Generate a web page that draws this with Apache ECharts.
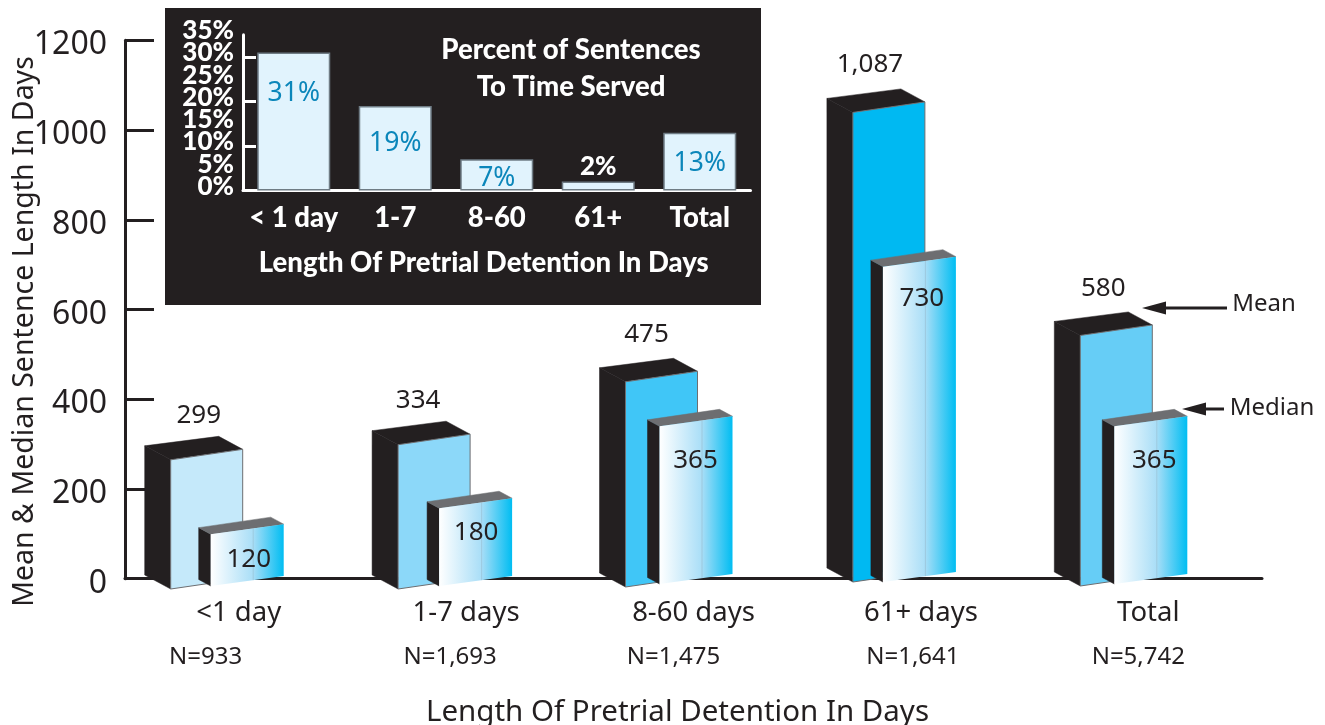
<!DOCTYPE html>
<html><head><meta charset="utf-8">
<style>html,body{margin:0;padding:0;background:#fff}#c{width:1325px;height:725px}</style>
<script src="https://cdn.jsdelivr.net/npm/echarts@6/dist/echarts.min.js"></script>
</head><body><div id="c"></div>
<script>
const categories = ['<1 day','1-7 days','8-60 days','61+ days','Total'];
const nLabels = ['N=933','N=1,693','N=1,475','N=1,641','N=5,742'];
const meanValues = [299,334,475,1087,580];
const medianValues = [120,180,365,730,365];
const insetCategories = ['< 1 day','1-7','8-60','61+','Total'];
const insetPercents = [31,19,7,2,13];
const yTicks = [0,200,400,600,800,1000,1200];
const insetTicksEven = [0,10,20,30];
const insetTicksOdd = [5,15,25,35];

// styling tables (not data)
const FONT = '"Noto Sans"';
const BOLD = 'Lato';
const HEAVY = 900;
const DARK = '#231f20';
const meanColors = ['#c5e9fa','#8cd8f9','#40c6f7','#00b9f2','#66cdf6'];
const meanLift = [0,0,2,7,3];
const medianLift = [3,3,5,7,5];
const medianDx = [-28,-27,-34,-38,-34];
const meanLabelDx = [-40,-48,-47,-51,-45];
const meanLabelDy = [-31,-31,-34,-35,-34];
const medianLabelDx = [10,10,2,1,6];
const medianLabelDy = [22,21,31,29,31];
const nLabelDx = [-33,-16,-20,-8,-10];
const insetLabelDist = [27,24,6,0,17];

const chart = echarts.init(document.getElementById('c'));

function poly(points, fill, stroke){
  return {type:'polygon', shape:{points}, style:{fill, stroke:stroke||fill, lineWidth:stroke?1:0.5}};
}
function txt(x,y,text,size){
  return {type:'text', style:{x,y:y+3,text,fontSize:size,fontFamily:FONT,fill:DARK,align:'center',verticalAlign:'middle'}};
}
function renderMean(params, api){
  const i = params.dataIndex, v = api.value(1);
  const cx = api.coord([i,0])[0], y0 = api.coord([i,0])[1]-meanLift[i], yt = api.coord([i,v])[1]-meanLift[i];
  const xl = cx-68, xr = xl+72, rise = 10.5, dxb = -26, dyb = -14;
  return {type:'group', children:[
    poly([[xl+dxb,yt+dyb],[xl,yt],[xl,y0],[xl+dxb,y0+dyb]], DARK),
    poly([[xl+dxb,yt+dyb],[xl,yt],[xr,yt-rise],[xr-24,yt-rise-13]], DARK),
    poly([[xl,yt],[xr,yt-rise],[xr,y0-rise],[xl,y0]], meanColors[i], '#6d6e71'),
    txt(cx+meanLabelDx[i], yt+dyb+meanLabelDy[i]-2, v.toLocaleString('en-US'), 26)
  ]};
}
function renderMedian(params, api){
  const i = params.dataIndex, v = api.value(1);
  const cx = api.coord([i,0])[0], y0 = api.coord([i,0])[1]-medianLift[i], yt = api.coord([i,v])[1]-medianLift[i];
  const xl = cx+medianDx[i], xr = xl+73, rise = 10, mid = (xl+xr)/2+6;
  const grad = new echarts.graphic.LinearGradient(0,0,1,0,[
    {offset:0,color:'#ffffff'},{offset:0.58,color:'#a9def7'},{offset:1,color:'#00bdf2'}]);
  return {type:'group', children:[
    poly([[xl-12,yt-6.5],[xl,yt],[xl,y0],[xl-12,y0-6.5]], DARK),
    poly([[xl-12,yt-6.5],[xl,yt],[xr,yt-rise],[xr-13,yt-rise-7]], '#6d6e71'),
    {type:'polygon', shape:{points:[[xl,yt],[xr,yt-rise],[xr,y0-rise],[xl,y0]]}, style:{fill:grad}},
    {type:'line', shape:{x1:mid,y1:yt-rise*0.58,x2:mid,y2:y0-rise*0.58}, style:{stroke:'rgba(120,130,140,0.22)',lineWidth:1}},
    txt(cx+medianLabelDx[i], yt+medianLabelDy[i], String(v), 26)
  ]};
}
function renderN(params, api){
  const i = params.dataIndex, p = api.coord([i,0]);
  return txt(p[0]+nLabelDx[i], p[1]+75, api.value(2), 24);
}
function arrow(tip, tail, y){
  return [
    {type:'line', z:9, shape:{x1:tip+20,y1:y,x2:tail,y2:y}, style:{stroke:DARK,lineWidth:3}},
    {type:'polygon', z:9, shape:{points:[[tip,y],[tip+24,y-6.5],[tip+24,y+6.5]]}, style:{fill:DARK}}
  ];
}
function insetLabel(){
  return {color:'#fff',fontFamily:BOLD,fontWeight:HEAVY,fontSize:26,margin:9,verticalAlign:'bottom',lineHeight:8,
    showMinLabel:true,showMaxLabel:true,formatter:'{value}%'};
}

chart.setOption({
  animation:false,
  backgroundColor:'#fff',
  title:{text:'Percent of Sentences\nTo Time Served', left:566, top:27, textAlign:'center',
    textStyle:{color:'#fff',fontFamily:BOLD,fontWeight:HEAVY,fontSize:27.5,lineHeight:37}, z:8},
  grid:[
    {left:125,width:1137,top:40.3,height:538.4,outerBoundsMode:'none'},
    {left:125,width:1137,top:70.6,height:518.4,outerBoundsMode:'none'},
    {left:243,width:507.5,top:34.8,height:155.7,z:5,outerBoundsMode:'none'}
  ],
  graphic:[
    {type:'rect', z:-1, shape:{x:165,y:8,width:596,height:297}, style:{fill:DARK}},
    ...arrow(1142,1227,308),
    ...arrow(1182,1224,409),
    {type:'text', z:9, style:{x:1264,y:304,text:'Mean',fontSize:24,fontFamily:FONT,fill:DARK,align:'center',verticalAlign:'middle'}},
    {type:'text', z:9, style:{x:1272,y:408,text:'Median',fontSize:24,fontFamily:FONT,fill:DARK,align:'center',verticalAlign:'middle'}}
  ],
  xAxis:[
    {type:'category',gridIndex:0,data:categories,
      axisLine:{lineStyle:{color:DARK,width:3}},axisTick:{show:false},
      axisLabel:{color:DARK,fontFamily:FONT,fontSize:27.5,margin:20,interval:0},
      name:'Length Of Pretrial Detention In Days',nameLocation:'middle',nameGap:119,
      nameTextStyle:{color:DARK,fontFamily:FONT,fontSize:29.5,padding:[0,32,0,0]}},
    {type:'category',gridIndex:1,data:categories,show:false},
    {type:'category',gridIndex:2,data:insetCategories,z:6,
      axisLine:{lineStyle:{color:'#fff',width:3}},axisTick:{show:false},
      axisLabel:{color:'#fff',fontFamily:BOLD,fontWeight:HEAVY,fontSize:27.5,margin:14,interval:0},
      name:'Length Of Pretrial Detention In Days',nameLocation:'middle',nameGap:59,
      nameTextStyle:{color:'#fff',fontFamily:BOLD,fontWeight:HEAVY,fontSize:27.5,padding:[0,26,0,0]}}
  ],
  yAxis:[
    {type:'value',gridIndex:0,min:0,max:1200,interval:200,splitLine:{show:false},
      axisLine:{show:true,lineStyle:{color:DARK,width:3}},
      axisTick:{show:true,inside:true,length:29,lineStyle:{color:DARK,width:3},customValues:yTicks.slice(1)},
      axisLabel:{color:DARK,fontFamily:FONT,fontSize:32,margin:18,verticalAlign:'top',lineHeight:10,showMinLabel:true,showMaxLabel:true,
        formatter:v=>String(v)},
      name:'Mean & Median Sentence Length In Days',nameLocation:'middle',nameGap:86,nameRotate:90,nameMoveOverlap:false,
      nameTextStyle:{color:DARK,fontFamily:FONT,fontSize:28.5,padding:[0,44,0,0]}},
    {type:'value',gridIndex:1,min:0,max:1200,show:false,splitLine:{show:false}},
    {type:'value',gridIndex:2,position:'left',min:0,max:35,interval:5,splitLine:{show:false},z:6,
      axisLine:{show:true,lineStyle:{color:'#fff',width:3}},
      axisTick:{show:true,inside:true,length:13,lineStyle:{color:'#fff',width:3},customValues:[10,20,30]},
      axisLabel:Object.assign(insetLabel(),{customValues:insetTicksEven})},
    {type:'value',gridIndex:2,position:'left',min:0,max:35,interval:5,splitLine:{show:false},z:6,
      axisLine:{show:false},
      axisTick:{show:true,inside:true,length:2,lineStyle:{color:'#fff',width:2},customValues:[5,15,25]},
      axisLabel:Object.assign(insetLabel(),{customValues:insetTicksOdd})}
  ],
  series:[
    {type:'custom',name:'Mean',xAxisIndex:1,yAxisIndex:1,z:3,renderItem:renderMean,
      encode:{x:0,y:1},data:meanValues.map((v,i)=>[i,v])},
    {type:'custom',name:'Median',xAxisIndex:1,yAxisIndex:1,z:4,renderItem:renderMedian,
      encode:{x:0,y:1},data:medianValues.map((v,i)=>[i,v])},
    {type:'custom',name:'N',xAxisIndex:0,yAxisIndex:0,z:4,renderItem:renderN,
      encode:{x:0,y:1},data:nLabels.map((t,i)=>[i,0,t])},
    {type:'bar',name:'Percent',xAxisIndex:2,yAxisIndex:2,z:7,barWidth:73,
      itemStyle:{color:'#e1f3fd',borderColor:'#6f7c85',borderWidth:1.5},
      data:insetPercents.map((v,i)=>({value:v,
        label: v===2
          ? {show:true,position:'top',distance:2,color:'#fff',fontWeight:HEAVY,fontFamily:BOLD,fontSize:26,formatter:'{c}%'}
          : {show:true,position:'insideTop',distance:insetLabelDist[i],color:'#0b86ba',fontFamily:FONT,fontSize:26.5,formatter:'{c}%'}
      }))}
  ]
});
</script></body></html>
